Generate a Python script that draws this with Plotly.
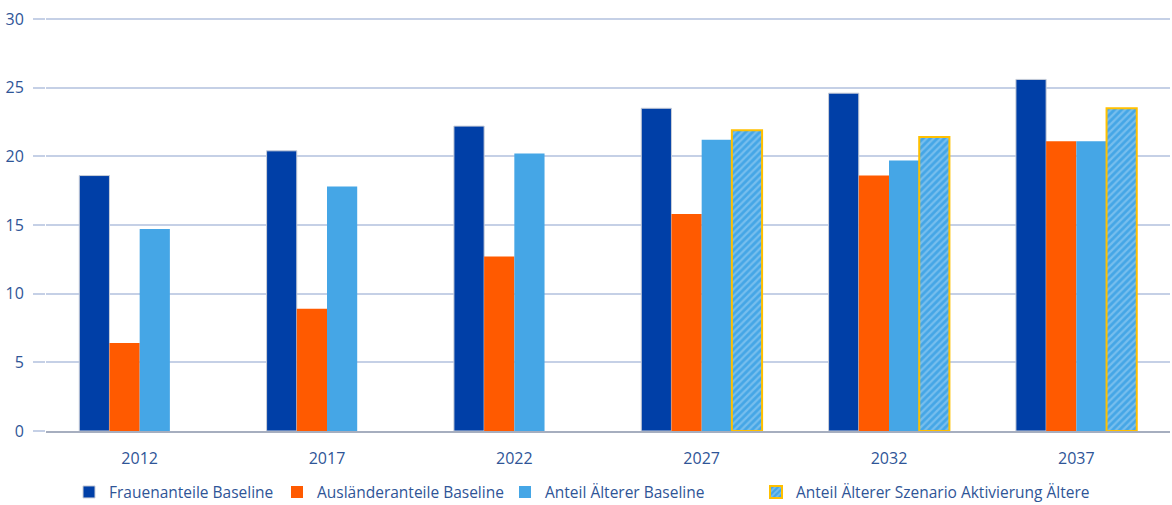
import plotly.graph_objects as go

years = ["2012", "2017", "2022", "2027", "2032", "2037"]
frauen = [18.6, 20.4, 22.2, 23.5, 24.6, 25.6]
auslaender = [6.4, 8.9, 12.7, 15.8, 18.6, 21.1]
aeltere = [14.7, 17.8, 20.2, 21.2, 19.7, 21.1]
aeltere_szenario = [None, None, None, 21.9, 21.4, 23.5]

text_color = "#2F5597"
font_family = "Open Sans, Liberation Sans, sans-serif"
legend_font = dict(size=15.5, color=text_color)

fig = go.Figure()
fig.add_bar(x=years, y=frauen, name="Frauenanteile Baseline", legend="legend",
            marker=dict(color="#003FA7", line=dict(color="#C9CED8", width=1)))
fig.add_bar(x=years, y=auslaender, name="Ausländeranteile Baseline", legend="legend2",
            marker=dict(color="#FF5A00", line=dict(color="#C9CED8", width=0)))
fig.add_bar(x=years, y=aeltere, name="Anteil Älterer Baseline", legend="legend3",
            marker=dict(color="#45A6E6", line=dict(color="#C9CED8", width=0)))
fig.add_bar(x=years, y=aeltere_szenario, name="Anteil Älterer Szenario Aktivierung Ältere",
            legend="legend4",
            marker=dict(color="#45A6E6",
                        line=dict(color="#FFC000", width=2),
                        pattern=dict(shape="/", fgcolor="#A9D6F5", bgcolor="#45A6E6",
                                     size=5, solidity=0.45)))
fig.update_traces(showlegend=True)


def legend_at(px):
    # one-entry legend whose text begins near horizontal pixel px
    return dict(orientation="h", xref="container", x=(px - 42) / 1172, xanchor="left",
                yref="container", y=0.025, yanchor="middle",
                font=legend_font, itemwidth=30, bgcolor="rgba(0,0,0,0)")


fig.update_layout(
    width=1172, height=505,
    showlegend=True,
    margin=dict(l=46, r=2, t=15, b=74, autoexpand=False),
    paper_bgcolor="white", plot_bgcolor="white",
    barmode="group", bargap=0.355, bargroupgap=0,
    font=dict(family=font_family, size=15, color=text_color),
    legend=legend_at(111),
    legend2=legend_at(319),
    legend3=legend_at(547),
    legend4=legend_at(798),
    xaxis=dict(showgrid=False, showline=True, linecolor="#A6AEBF", linewidth=2,
               ticks="outside", ticklen=12, tickcolor="rgba(0,0,0,0)",
               tickfont=dict(size=16, color=text_color)),
    yaxis=dict(range=[0, 30.29], tickvals=[0, 5, 10, 15, 20, 25, 30],
               showgrid=True, gridcolor="#C5D0E6", gridwidth=2,
               zeroline=False, ticks="outside", ticklen=12, tickcolor="#C5D0E6",
               tickwidth=2, ticklabelstandoff=6, tickfont=dict(size=16, color=text_color)),
)

fig.write_html("out.html")
